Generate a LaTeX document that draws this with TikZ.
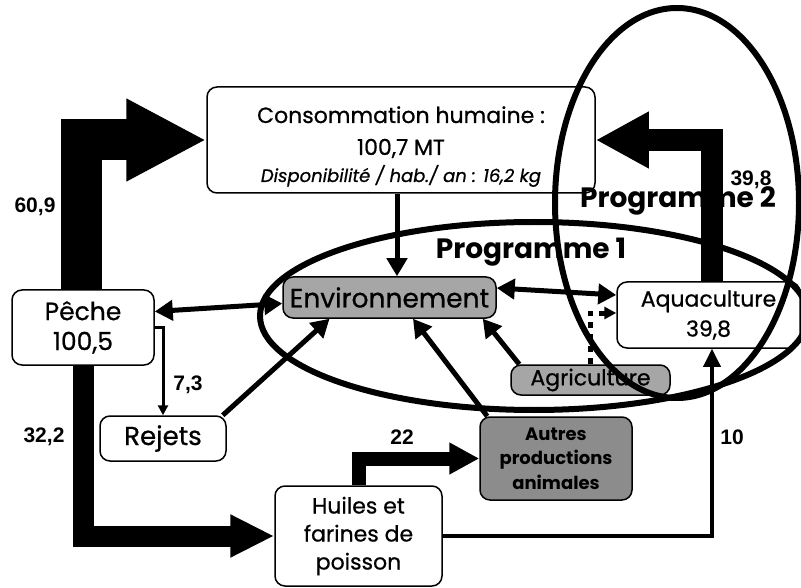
\documentclass[tikz,border=0pt]{standalone}
\usepackage{fontspec}
\setmainfont{Poppins}[UprightFeatures={FakeBold=0.7},ItalicFeatures={FakeBold=0.7}]
\newfontfamily\numfont{Liberation Sans}
\usetikzlibrary{arrows.meta}
\begin{document}
\begin{tikzpicture}[x=1pt,y=-1pt,
  box/.style={draw, line width=1.5pt, rounded corners=10pt, fill=white, align=center, inner sep=0pt},
  graybox/.style={box, fill=black!35},
  txt/.style={font=\fontsize{22}{30}\selectfont},
  num/.style={font=\numfont\bfseries\fontsize{21}{22}\selectfont},
  prog/.style={font=\bfseries\fontsize{28}{30}\selectfont},
  link/.style={line width=5pt, -{Triangle[length=18pt,width=20pt]}},
  dlink/.style={line width=5pt, {Triangle[length=18pt,width=20pt]}-{Triangle[length=18pt,width=20pt]}},
  ring/.style={line width=6pt}
]
\useasboundingbox (0,0) rectangle (801,588);

% boxes
\node[box, minimum width=388pt, minimum height=106pt] (conso) at (401,140) {};
\node[anchor=base, font=\fontsize{22}{26}\selectfont] (c1) at (401,123) {Consommation humaine :};
\node[anchor=base, font=\fontsize{22}{26}\selectfont] (c2) at (401,155) {100,7 MT};
\node[anchor=base, font=\itshape\fontsize{18}{20}\selectfont] (c3) at (401,182) {Disponibilité / hab./ an : 16,2 kg};

\node[box, font=\fontsize{25}{30}\selectfont, minimum width=142pt, minimum height=75pt] (peche) at (83,327.5) {Pêche\\100,5};
\node[box, font=\fontsize{26}{30}\selectfont, minimum width=126pt, minimum height=45pt] (rejets) at (163,438.5) {Rejets};
\node[graybox, font=\fontsize{26.5}{30}\selectfont, minimum width=213pt, minimum height=41pt] (env) at (389.5,297.5) {Environnement};
\node[box, txt, minimum width=183pt, minimum height=66pt] (aqua) at (708.5,315) {Aquaculture\\39,8};
\node[graybox, txt, minimum width=159pt, minimum height=30pt] (agri) at (590.5,380) {Agriculture};
\node[graybox, fill=black!45, font=\bfseries\fontsize{18}{24.5}\selectfont, minimum width=152pt, minimum height=83pt] (autres) at (556,458.5) {Autres\\productions\\animales};
\node[box, font=\fontsize{22}{28}\selectfont, minimum width=167pt, minimum height=100pt] (huiles) at (358.5,536) {Huiles et\\farines de\\poisson};

% programme labels
\node[prog] (p2) at (678,201) {Programme 2};
\node[prog] (p1) at (531,252) {Programme 1};

% thick flows
\draw[line width=41pt, -{Triangle[length=80pt,width=77pt]}] ([xshift=-1.5pt]peche.north) |- (conso.west);
\draw[line width=22pt, -{Triangle[length=53pt,width=53pt]}] ([xshift=3.5pt]aqua.north) |- (conso.east);
\draw[line width=21pt, -{Triangle[length=44pt,width=40pt]}] (peche.south) |- (huiles.west);
\draw[line width=14pt, -{Triangle[length=30pt,width=30pt]}] (huiles.north) |- (autres.west);
\draw[line width=3.5pt, -{Triangle[length=18pt,width=17pt]}] (huiles.east) -| ([xshift=3.5pt]aqua.south);

% thin links
\draw[link] ([xshift=-4pt]conso.south) -- ([xshift=-4pt]conso.south |- env.north);
\draw[dlink] ([yshift=-6pt]env.west) -- ([yshift=16pt]peche.east);
\draw[dlink] ([yshift=9.5pt]env.east) -- ([yshift=20pt]aqua.west);
\draw[line width=3pt, -{Triangle[length=10pt,width=10pt]}] (peche.east) -| (rejets.north);
\draw[link] ([xshift=-4pt]rejets.north east) -- ([xshift=-60pt]env.south);
\draw[link] ([xshift=9pt]agri.north west) -- ([xshift=-14pt]env.south east);
\draw[link] ([xshift=8pt]autres.north west) -- ([xshift=23.5pt]env.south);
\draw[line width=5pt, dash pattern=on 6pt off 6pt, -{Triangle[length=12pt,width=12pt]}] (agri.north) |- ([yshift=2pt]aqua.west);

% numbers
\node[num] (n609) at (35,207) {60,9};
\node[num] (n398) at (751,180) {39,8};
\node[num] (n322) at (44,437) {32,2};
\node[num] (n73) at (188,385) {7,3};
\node[num] (n22) at (402,437) {22};
\node[num] (n10) at (732,437) {10};

% programme ellipses
\draw[ring] (534,316) ellipse [x radius=274, y radius=94];
\draw[ring] (677,203) ellipse [x radius=122, y radius=195];
\end{tikzpicture}
\end{document}
